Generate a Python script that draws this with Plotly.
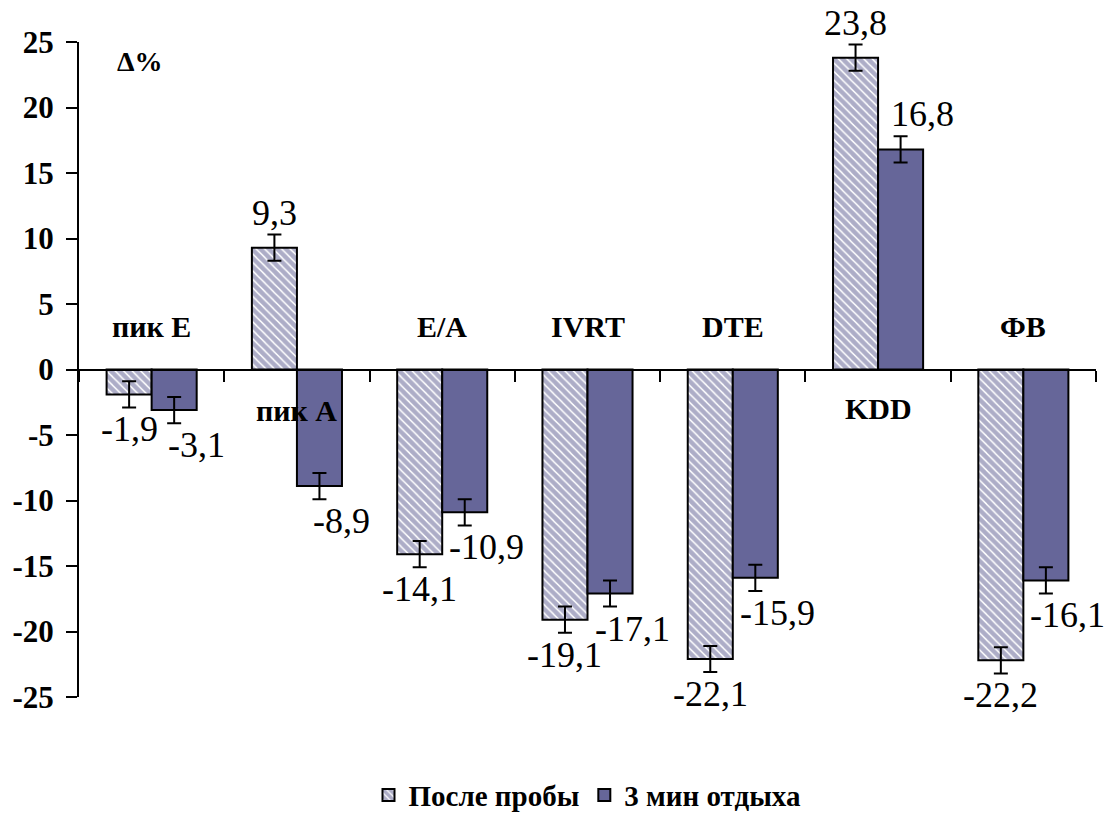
import plotly.graph_objects as go

categories = ["пик E", "пик A", "E/A", "IVRT", "DTE", "KDD", "ФВ"]
after_test = [-1.9, 9.3, -14.1, -19.1, -22.1, 23.8, -22.2]
rest_3min = [-3.1, -8.9, -10.9, -17.1, -15.9, 16.8, -16.1]
err_after = [1, 1, 1, 1, 1, 1, 1]
err_rest = [1, 1, 1, 1, 1, 1, 1]
cat_label_y = [3.3, -3.1, 3.3, 3.3, 3.3, -3.0, 3.3]
series_names = ["После пробы", "3 мин отдыха"]
y_ticks = [25, 20, 15, 10, 5, 0, -5, -10, -15, -20, -25]

FONT = "Liberation Serif"
SOLID = "#666699"
xs = list(range(len(categories)))

fig = go.Figure()
fig.add_trace(go.Bar(
    x=xs, y=after_test, name=f"<b>{series_names[0]}</b>",
    marker=dict(color="white", line=dict(color="black", width=2),
                pattern=dict(shape="\\", fgcolor="#5c5c90", bgcolor="white", size=6, solidity=0.75)),
    error_y=dict(type="data", array=err_after, color="black", thickness=2, width=7),
))
fig.add_trace(go.Bar(
    x=xs, y=rest_3min, name=f"<b>{series_names[1]}</b>",
    marker=dict(color=SOLID, line=dict(color="black", width=2)),
    error_y=dict(type="data", array=err_rest, color="black", thickness=2, width=7),
))

def fmt(v):
    return f"{v:.1f}".replace(".", ",")

ann = []
off = 0.155
for i, v in enumerate(after_test):
    ann.append(dict(x=i - off, y=v, text=fmt(v), showarrow=False,
                    yshift=35 if v > 0 else -35, xshift=0,
                    font=dict(family=FONT, size=36, color="black")))
for i, v in enumerate(rest_3min):
    ann.append(dict(x=i + off, y=v, text=fmt(v), showarrow=False,
                    yshift=35 if v > 0 else -35, xshift=22,
                    font=dict(family=FONT, size=36, color="black")))
for i, c in enumerate(categories):
    ann.append(dict(x=i, y=cat_label_y[i], text=f"<b>{c}</b>", showarrow=False,
                    font=dict(family=FONT, size=30, color="black")))
ann.append(dict(x=-0.08, y=23.5, text="<b>Δ%</b>", showarrow=False,
                font=dict(family=FONT, size=28, color="black")))

fig.update_layout(
    width=1112, height=825,
    margin=dict(l=79, r=16, t=42, b=128, autoexpand=False),
    paper_bgcolor="white", plot_bgcolor="white",
    barmode="group", bargap=0.38, bargroupgap=0,
    showlegend=True,
    legend=dict(orientation="h", x=0.5, xanchor="center", y=-0.15, yanchor="middle",
                font=dict(family=FONT, size=29, color="black"), traceorder="normal"),
    annotations=ann,
    font=dict(family=FONT, color="black"),
)
fig.update_xaxes(
    range=[-0.5, len(categories) - 0.5], anchor="free", position=0.5, automargin=False,
    showline=True, linecolor="black", linewidth=2,
    tickmode="array", tickvals=[i - 0.5 for i in range(len(categories) + 1)],
    showticklabels=False, ticks="outside", ticklen=11, tickwidth=2, tickcolor="black",
    showgrid=False, zeroline=False,
)
fig.update_yaxes(
    range=[-25, 25], tickmode="array", tickvals=y_ticks, automargin=False,
    ticktext=[f"<b>{t}</b>" for t in y_ticks],
    showline=True, linecolor="black", linewidth=2,
    ticks="outside", ticklen=11, tickwidth=2, tickcolor="black",
    tickfont=dict(family=FONT, size=31, color="black"), ticklabelstandoff=6,
    showgrid=False, zeroline=False,
)

fig.write_html("out.html", config={"displayModeBar": False},
               post_script="document.body.style.margin='0';")
